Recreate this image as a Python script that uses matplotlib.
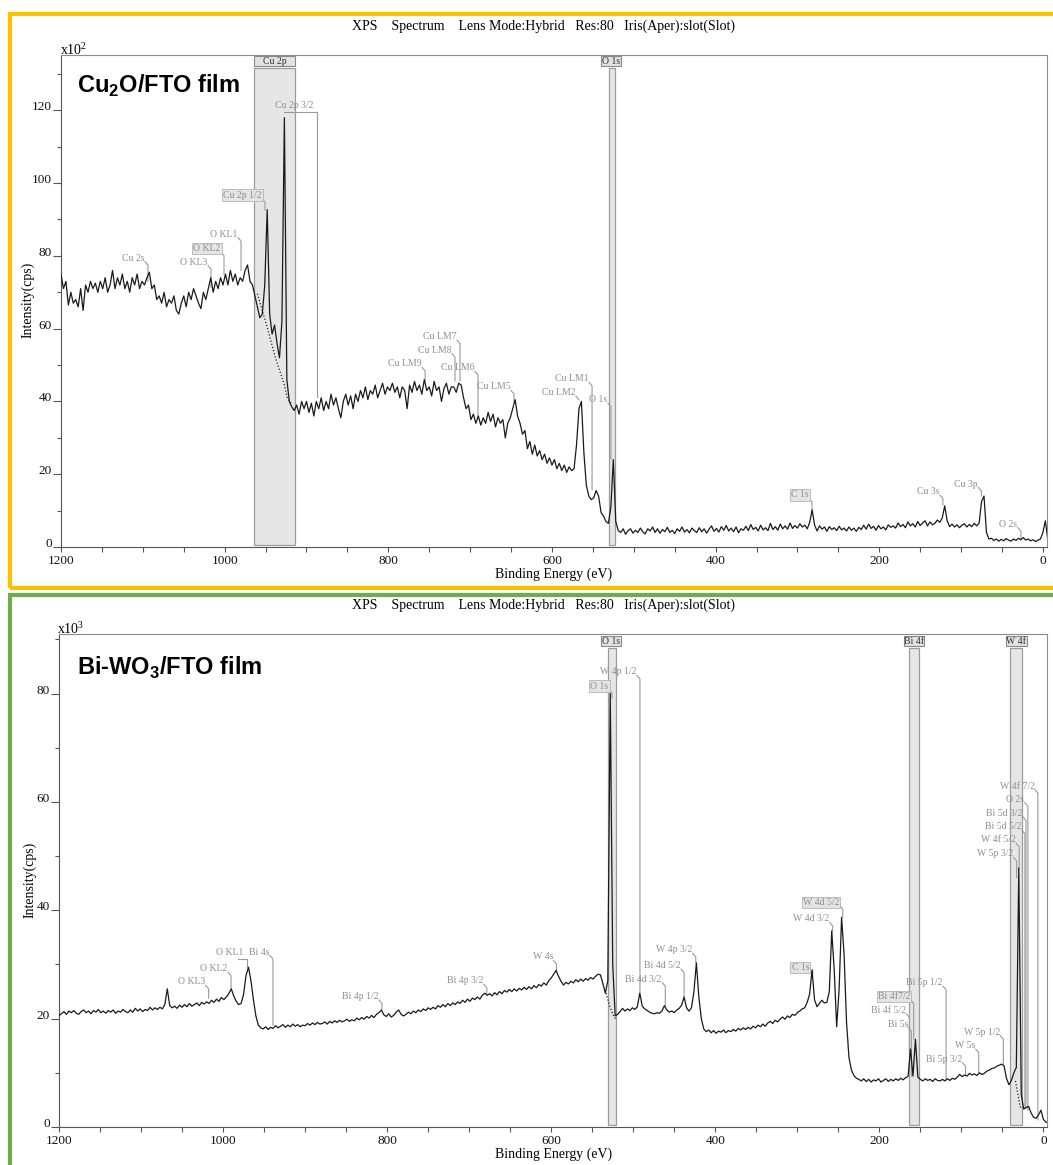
import numpy as np
import matplotlib.pyplot as plt
from matplotlib.patches import Rectangle
from matplotlib.ticker import MultipleLocator

plt.rcParams['font.family'] = ['Liberation Serif', 'DejaVu Serif']
plt.rcParams['mathtext.fontset'] = 'custom'
plt.rcParams['mathtext.rm'] = 'Liberation Serif'
plt.rcParams['mathtext.bf'] = 'Liberation Sans:bold'

# binding energy grid of both surveys (eV), 1200 -> -6
energy = np.arange(1200, -7, -3)

# Cu2O/FTO survey, intensity (x10^2 cps)
cu2o = np.array([
    75, 71, 73, 66.5, 70, 67, 68, 66, 71, 65, 72, 70, 73, 71, 72.5, 70, 73, 71, 74, 70,
    72, 76, 71, 74, 72, 75, 71, 73, 70, 74, 72, 75, 71, 73, 72, 74, 75.5, 71, 72, 68,
    69, 67, 70, 66, 68, 67, 69, 65, 64, 67, 69, 66, 70, 68, 71, 69, 67, 65.5, 70, 68,
    71, 74, 70, 73, 71, 74, 72, 75, 72, 76, 73, 75, 72, 74, 73, 76, 77.5, 73, 72, 69,
    66, 63, 64, 72, 92.7, 64, 58.5, 61, 56, 52, 62, 118, 46, 40, 38.5, 37.5, 39, 36.5, 40, 38,
    40, 37, 39.5, 36, 40, 38, 41, 37.5, 40, 38, 42, 39, 41, 38, 35.5, 40, 42, 39, 41.5, 38,
    42, 40, 43, 41, 44, 40.5, 43, 42, 44.5, 41, 43, 45, 42, 44, 43, 45, 42.5, 44, 41, 44,
    43, 38, 44.5, 42.5, 45.5, 43, 44.5, 42, 46, 43, 44, 41.5, 45.5, 43, 44, 40, 43.5, 45, 42, 44,
    44, 42.5, 45, 44.5, 41, 38, 39, 35, 36.5, 34, 36, 33.5, 35.5, 34, 37, 34.5, 36.5, 33, 35.5, 34,
    35, 30, 34, 35.5, 38, 40.5, 36, 34, 31, 32, 27, 29, 25.5, 28, 25, 26.5, 24, 25.5, 23, 24.5,
    22.5, 24, 21.5, 23, 21, 22.5, 20.5, 22, 21, 21.5, 28, 38, 40, 26, 17, 14, 13, 13.5, 15.5, 14,
    9.5, 8.5, 7, 6.5, 11, 24, 7, 4.5, 4, 5, 3.5, 4.5, 5, 3.8, 4.6, 4, 5.2, 4.2, 3.6, 5,
    4.4, 5.5, 4, 5, 3.8, 4.8, 4.2, 5.4, 4, 4.6, 3.7, 5, 4.3, 5.5, 4.1, 4.8, 3.9, 5.2, 4.5, 4,
    5.3, 4.2, 5, 3.8, 4.9, 5.8, 4.3, 5.1, 4.1, 5.6, 4.6, 5.9, 4.4, 5.2, 4.2, 5.5, 3.9, 5, 4.6, 5.7,
    4.5, 6.2, 4.8, 5.4, 4.4, 6, 4.7, 5.3, 4.5, 6.5, 4.8, 5.6, 4.6, 6.3, 5, 5.8, 4.9, 6.6, 5.1, 5.9,
    5.2, 6.4, 5.5, 6, 5, 6.8, 10.2, 6, 4.4, 5.8, 4.9, 5.5, 4.3, 5.6, 4.8, 5.3, 4.5, 5.7, 4.7, 5.2,
    4.4, 5.5, 4.6, 5.2, 4.3, 5.4, 4.8, 6, 4.9, 6.3, 5.1, 5.7, 4.6, 5.9, 5, 5.5, 4.7, 6.1, 5.4, 5.8,
    5.2, 6.6, 5.6, 6.2, 5.3, 6.9, 5.8, 6.4, 5.5, 7, 5.9, 6.6, 7.2, 5.8, 6.9, 6.1, 6.5, 7.4, 6.8, 8,
    11.3, 7.2, 5.6, 6.3, 5.5, 6.1, 5.3, 6, 6.4, 5.5, 6.2, 5.6, 6.5, 5.8, 6.5, 12.5, 14, 4, 2.2, 2.4,
    1.8, 2.2, 1.6, 2.1, 1.7, 2.3, 1.9, 1.6, 2.2, 1.8, 2.4, 2, 2.6, 1.9, 2.2, 1.7, 2, 1.5, 1.9, 2.2,
    4, 7.2, 2,
])

# Bi-WO3/FTO survey, intensity (x10^3 cps)
biwo3 = np.array([
    20.6, 20.9, 21.3, 20.8, 21.4, 21.1, 21.5, 21, 20.8, 21.3, 21.6, 21.1, 21.4, 20.9, 21.5, 21.2, 21.7, 21.1, 21.4, 21,
    21.5, 21.2, 21.6, 21, 21.4, 21.2, 21.7, 21.3, 21.1, 21.6, 21.2, 21.9, 21.4, 21.8, 21.3, 21.7, 21.5, 22.1, 21.6, 22,
    21.7, 22.1, 21.8, 22.6, 25.5, 22.4, 22, 22.3, 21.9, 22.5, 22.1, 22.6, 22.2, 22.8, 22.3, 22.6, 22.9, 22.4, 23, 22.7,
    23.1, 22.8, 23.4, 23, 23.6, 23.2, 23.9, 23.5, 24, 24.6, 25.5, 24.2, 23.2, 22.6, 22.8, 24.5, 28, 29.5, 27, 23.5,
    20.5, 18.8, 18.3, 18.1, 18.5, 18, 18.4, 18.2, 18.7, 18.3, 18.6, 18.9, 18.4, 18.8, 18.5, 19, 18.6, 18.9, 18.5, 18.8,
    18.7, 19.1, 18.8, 19.2, 18.9, 19.3, 19, 19.1, 19.4, 19, 19.5, 19.2, 19.6, 19.3, 19.7, 19.4, 19.6, 19.9, 19.5, 19.8,
    19.6, 20.1, 19.8, 20.2, 19.9, 20.4, 20.1, 20.6, 20.2, 20.8, 21.1, 21.6, 20.7, 20.4, 20.9, 20.3, 20.6, 21.2, 21.6, 20.8,
    20.5, 20.8, 21.2, 20.9, 21.4, 21.1, 21.6, 21.3, 21.8, 21.5, 22, 21.7, 22.1, 21.8, 22.4, 22.1, 22.6, 22.2, 22.8, 22.4,
    22.9, 22.6, 23.1, 22.8, 23.4, 23, 23.6, 23.2, 23.8, 23.5, 24, 23.6, 24.3, 24.7, 24.3, 24.6, 24.2, 24.8, 24.4, 25,
    24.6, 25.2, 24.9, 25.4, 25, 25.5, 25.1, 25.6, 25.3, 25.8, 25.4, 25.9, 25.5, 26.1, 25.7, 26.3, 26, 26.6, 26.2, 27,
    27.5, 28.2, 28.9, 27.8, 26.9, 26.2, 26.7, 26.4, 26.9, 26.6, 27.2, 26.8, 27.3, 26.9, 27.4, 27.1, 27.6, 27.3, 27.8, 28.2,
    28.1, 26.5, 24.7, 27, 80, 30, 20.5, 20.8, 21.3, 21.9, 21.4, 21.8, 21.5, 22, 21.7, 22.2, 24.7, 22.3, 21.8, 21.5,
    21.2, 21, 20.9, 21.1, 21, 21.4, 22.4, 21.6, 21.2, 21.4, 21.1, 21.6, 21.9, 22.5, 24, 22, 21.4, 22, 25, 30.3,
    24, 20, 18.1, 17.6, 17.9, 17.4, 17.8, 17.3, 17.7, 17.5, 17.9, 17.4, 17.8, 17.6, 18, 17.7, 18.2, 17.9, 18.3, 18,
    18.4, 18.1, 18.6, 18.3, 18.8, 18.5, 19, 18.6, 19.2, 19.5, 19.1, 19.7, 19.4, 19.9, 20.3, 19.9, 20.5, 20.2, 20.8, 20.6,
    21.1, 21.4, 21.8, 22, 23, 24.5, 29, 23.5, 22.2, 22.8, 23.4, 22.9, 23, 25, 36.2, 29, 18.5, 25.5, 38.7, 32,
    19.4, 12.8, 10.5, 9.5, 9, 8.8, 8.5, 8.9, 8.4, 8.8, 8.3, 8.7, 8.5, 8.9, 8.3, 8.6, 8.9, 8.4, 8.8, 8.5,
    8.9, 8.6, 9, 8.7, 9.1, 9.3, 14.4, 9.4, 16.2, 9.2, 8.8, 8.5, 8.9, 8.6, 8.8, 8.4, 8.9, 8.6, 8.5, 8.8,
    8.5, 8.9, 8.6, 9, 8.8, 9.2, 9.7, 9.3, 9.6, 9.4, 9.9, 9.6, 9.8, 9.5, 10, 9.7, 9.9, 10.3, 10.5, 10.8,
    10.9, 11.2, 11.4, 11.6, 11.3, 9, 7.8, 8.6, 10, 11, 47.8, 6, 3.3, 3.6, 3.8, 2.6, 1.8, 1.6, 2.2, 3.1,
    1.4, 0.9, 0.8,
])

# dotted backgrounds under the fitted regions
cu2o_bg_e = [960, 948, 938, 927.6, 923.5, 918.6]
cu2o_bg_i = [69.6, 60.4, 52, 45, 41, 39.4]
biwo3_bg = [([533, 529, 525, 521], [24.7, 22.5, 20.8, 19.8]),
            ([34, 31, 29, 27], [8.5, 6, 4.2, 3.2])]

# peak labels: name, energy of the leader, label level, leader end, boxed
cu2o_peaks = [
    ('Cu 2s', 1093.7, 79.4, 73, False),
    ('O KL3', 1016.7, 78.3, 71.4, False),
    ('O KL2', 1000.8, 82, 75, True),
    ('O KL1', 980, 86, 76, False),
    ('Cu 2p 1/2', 950.7, 96.7, 92.6, True),
    ('Cu 2p 3/2', 887.2, 121.2, 41.3, False),
    ('Cu LM9', 755, 50.3, 45.6, False),
    ('Cu LM8', 718.5, 54.1, 45.6, False),
    ('Cu LM7', 712.4, 57.8, 45.6, False),
    ('Cu LM6', 690.4, 49.2, 35.3, False),
    ('Cu LM5', 646.4, 44, 39.8, False),
    ('Cu LM1', 551, 46.2, 15.8, False),
    ('Cu LM2', 567, 42.4, 40.4, False),
    ('O 1s', 527.9, 40.5, 24.2, False),
    ('C 1s', 282.2, 14.3, 10.2, True),
    ('Cu 3s', 122.2, 15.2, 11.5, False),
    ('Cu 3p', 75.1, 17.3, 14, False),
    ('O 2s', 26.9, 6.3, 1.9, False),
]
cu2o_under = {'Cu 2p 3/2': 927}

biwo3_peaks = [
    ('O KL3', 1017.6, 26.8, 23.8, False),
    ('O KL2', 990.3, 29.2, 25.6, False),
    ('O KL1', 970.8, 32.3, 29.5, False),
    ('Bi 4s', 939.2, 32.3, 18.8, False),
    ('Bi 4p 1/2', 806.3, 24.1, 21.6, False),
    ('Bi 4p 3/2', 678.5, 27, 24.4, False),
    ('W 4s', 593.6, 31.4, 28.9, False),
    ('O 1s', 525.9, 81.4, 79.2, True),
    ('W 4p 1/2', 491.8, 84, 24.7, False),
    ('Bi 4d 3/2', 460.9, 27.3, 22.4, False),
    ('Bi 4d 5/2', 438, 29.8, 24.1, False),
    ('W 4p 3/2', 423.8, 32.7, 30.3, False),
    ('C 1s', 281.2, 29.5, 29, True),
    ('W 4d 3/2', 256.9, 38.4, 36.2, False),
    ('W 4d 5/2', 244.6, 41.5, 38.7, True),
    ('Bi 4f7/2', 158.1, 24.1, 16.2, True),
    ('Bi 4f 5/2', 163.3, 21.5, 14.4, False),
    ('Bi 5s', 160.9, 19, 9.4, False),
    ('Bi 5p 1/2', 118.6, 26.6, 8.8, False),
    ('Bi 5p 3/2', 94.9, 12.5, 9.7, False),
    ('W 5s', 78.8, 15, 10, False),
    ('W 5p 1/2', 48.8, 17.5, 11.6, False),
    ('W 4f 7/2', 6.7, 62.9, 1.3, False),
    ('O 2s', 18.9, 60.5, 3.1, False),
    ('Bi 5d 3/2', 21.3, 57.9, 3.5, False),
    ('Bi 5d 5/2', 22.5, 55.4, 3.5, False),
    ('W 4f 5/2', 29.5, 53, 47.8, False),
    ('W 5p 3/2', 32.6, 50.4, 46, False),
]
biwo3_under = {'O KL1': 981.8}

# fitted regions: name, window (high, low), tag window (high, low)
cu2o_regions = [('Cu 2p', 964.1, 914.0, 964.1, 914.0),
                ('O 1s', 530.3, 523.3, 540, 515.6)]
biwo3_regions = [('O 1s', 530.8, 521, 539.3, 514.9),
                 ('Bi 4f', 164.1, 151.2, 170.2, 145.8),
                 ('W 4f', 41.1, 25.6, 46, 20.4)]

W, H = 1053, 1165
fig = plt.figure(figsize=(W / 100, H / 100), dpi=100)

header = 'XPS    Spectrum    Lens Mode:Hybrid   Res:80   Iris(Aper):slot(Slot)'
GREY = '#9a9a9a'


def axes_px(l, t, r, b):
    return fig.add_axes([l / W, 1 - b / H, (r - l) / W, (b - t) / H])


def draw_panel(ax, inten, ytop, xright, peaks, under, regions, box_y, tag_y):
    wpx = ax.get_position().width * W
    hpx = ax.get_position().height * H
    pe = wpx / (1200 - xright)   # px per eV
    pi = hpx / ytop              # px per intensity unit

    for name, e_hi, e_lo, t_hi, t_lo in regions:
        ax.axvspan(e_hi, e_lo, ymin=box_y[0], ymax=box_y[1], fc='#e6e6e6',
                   ec='#9c9c9c', lw=0.9, zorder=1)
        ax.axvspan(t_hi, t_lo, ymin=tag_y[0], ymax=tag_y[1], fc='#e2e2e2',
                   ec='#8a8a8a', lw=0.8, zorder=1)
        ax.text((t_hi + t_lo) / 2, ytop * (tag_y[0] + tag_y[1]) / 2, name,
                ha='center', va='center', fontsize=7, color='#333333', zorder=5)

    ax.plot(energy, inten, color='#1a1a1a', lw=0.9, zorder=3)

    for name, e, it, iend, boxed in peaks:
        kw = {}
        if boxed:
            kw['bbox'] = dict(boxstyle='square,pad=0.12', fc='#e4e4e4', ec='#b4b4b4', lw=0.6)
        ax.text(e + 3.5 / pe, it, name, ha='right', va='center', fontsize=7,
                color='#8e8e8e', zorder=4, **kw)
        if name in under:
            xs = [under[name], e, e]
            ys = [it - 6.5 / pi, it - 6.5 / pi, iend]
        else:
            xs = [e + 3 / pe, e, e]
            ys = [it - 3.5 / pi, it - 7 / pi, iend]
        ax.plot(xs, ys, color=GREY, lw=0.8, zorder=2)

    ax.set_xlim(1200, xright)
    ax.set_ylim(0, ytop)
    ax.xaxis.set_major_locator(MultipleLocator(200))
    ax.xaxis.set_minor_locator(MultipleLocator(50))
    ax.yaxis.set_major_locator(MultipleLocator(20))
    ax.yaxis.set_minor_locator(MultipleLocator(10))
    ax.tick_params(which='both', direction='out', color='#555555', width=0.8,
                   labelsize=9.5, labelcolor='#111111')
    ax.tick_params(axis='x', which='both', length=3.5, pad=2)
    ax.tick_params(axis='y', which='major', length=6, pad=0.5)
    ax.tick_params(axis='y', which='minor', length=3)
    for lab in ax.get_yticklabels():
        lab.set_verticalalignment('baseline')
    for side in ('left', 'bottom'):
        ax.spines[side].set_color('#555555')
    for side in ('top', 'right'):
        ax.spines[side].set_color('#8c8c8c')


# ---- Cu2O/FTO panel ----
ax1 = axes_px(61, 55, 1047, 547)
draw_panel(ax1, cu2o, 135.2, -5, cu2o_peaks, cu2o_under, cu2o_regions,
           (0.004, 0.9736), (0.9776, 0.998))
ax1.plot(cu2o_bg_e, cu2o_bg_i, ls=(0, (1, 1.6)), color='#222222', lw=0.9, zorder=3)

# ---- Bi-WO3/FTO panel ----
ax2 = axes_px(59, 634, 1047, 1127)
draw_panel(ax2, biwo3, 91.0, -4.4, biwo3_peaks, biwo3_under, biwo3_regions,
           (0.004, 0.9716), (0.9757, 0.9959))
for be, bi in biwo3_bg:
    ax2.plot(be, bi, ls=(0, (1, 1.6)), color='#222222', lw=0.9, zorder=3)

# ---- text around the panels ----
for top, yx, yl, xl, tag, tagy in (
        (26, 28, 300, 574, r'Cu$_{\mathbf{2}}$O/FTO film', 86),
        (605, 30, 880, 1154, r'Bi-WO$_{\mathbf{3}}$/FTO film', 668)):
    fig.text(543 / W, 1 - top / H, header, ha='center', va='center', fontsize=10)
    fig.text(yx / W, 1 - yl / H, 'Intensity(cps)', rotation=90, ha='center',
             va='center', fontsize=10)
    fig.text(554 / W, 1 - xl / H, 'Binding Energy (eV)', ha='center', va='center',
             fontsize=10)
    fig.text(77 / W, 1 - tagy / H, tag, ha='left', va='center', fontsize=17,
             fontweight='bold', family='Liberation Sans')
fig.text(60 / W, 1 - 50 / H, r'x10$^{\mathrm{2}}$', ha='left', va='center', fontsize=10)
fig.text(57 / W, 1 - 629 / H, r'x10$^{\mathrm{3}}$', ha='left', va='center', fontsize=10)

# coloured frames of the two figures
fig.add_artist(Rectangle((9.5 / W, 1 - 587.5 / H), 1.1, (587.5 - 14) / H,
                         transform=fig.transFigure, fill=False, ec='#ffc000', lw=3))
fig.add_artist(Rectangle((9.5 / W, -0.1), 1.1, 0.1 + (H - 595) / H,
                         transform=fig.transFigure, fill=False, ec='#70ad47', lw=3))

fig.savefig('out.png', dpi=100)
